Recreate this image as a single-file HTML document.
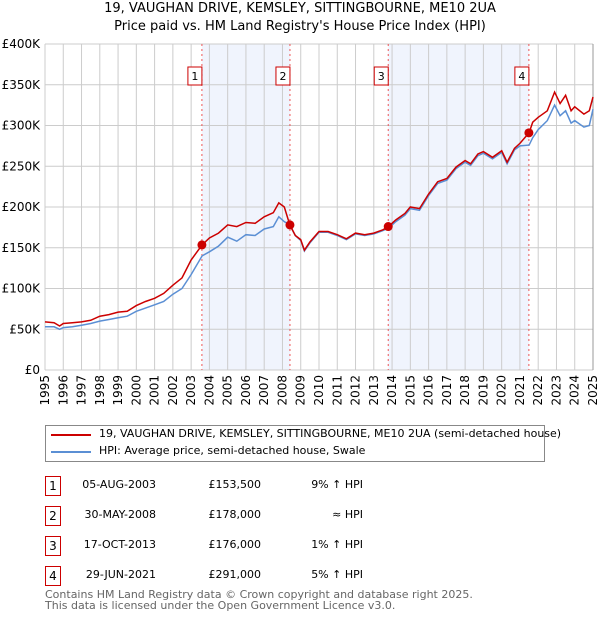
<!DOCTYPE html>
<html><head><meta charset="utf-8"><style>
body{margin:0;width:600px;height:620px;background:#fff;font-family:"DejaVu Sans","Liberation Sans",sans-serif;overflow:hidden;position:relative}
.t{position:absolute;white-space:nowrap;font-size:12px;color:#000}
.box{position:absolute;width:14px;height:18px;border:1px solid #c00;font-size:12px;text-align:center;line-height:18px;background:#fff}
</style></head><body>
<div class="t" style="left:0;width:600px;text-align:center;top:1px;font-size:13px">19, VAUGHAN DRIVE, KEMSLEY, SITTINGBOURNE, ME10 2UA</div>
<div class="t" style="left:0;width:600px;text-align:center;top:19px;font-size:13px">Price paid vs. HM Land Registry's House Price Index (HPI)</div>
<svg id="chart" width="600" height="410" style="position:absolute;left:0;top:0"></svg>
<div style="position:absolute;left:45px;top:425px;width:498px;height:35px;border:1px solid #888"></div>
<div style="position:absolute;left:51px;top:434px;width:40px;height:2px;background:#c00"></div>
<div class="t" style="left:99px;top:427px;font-size:11px">19, VAUGHAN DRIVE, KEMSLEY, SITTINGBOURNE, ME10 2UA (semi-detached house)</div>
<div style="position:absolute;left:51px;top:451px;width:40px;height:2px;background:#5b8fd4"></div>
<div class="t" style="left:99px;top:444px;font-size:11px">HPI: Average price, semi-detached house, Swale</div>
<div id="rows"></div>
<div class="t" style="left:45px;top:589px;font-size:11px;color:#666;line-height:11px">Contains HM Land Registry data © Crown copyright and database right 2025.<br>This data is licensed under the Open Government Licence v3.0.</div>
<script>
const yearTicks=[1995,1996,1997,1998,1999,2000,2001,2002,2003,2004,2005,2006,2007,2008,2009,2010,2011,2012,2013,2014,2015,2016,2017,2018,2019,2020,2021,2022,2023,2024,2025];
const valueTicks=[0,50000,100000,150000,200000,250000,300000,350000,400000];
const valueTickLabels=["£0","£50K","£100K","£150K","£200K","£250K","£300K","£350K","£400K"];
const times=[1995,1995.5,1995.8,1996,1996.5,1997,1997.5,1998,1998.5,1999,1999.5,2000,2000.5,2001,2001.5,2002,2002.5,2003,2003.6,2004,2004.5,2005,2005.5,2006,2006.5,2007,2007.5,2007.8,2008.1,2008.4,2008.7,2009,2009.2,2009.5,2010,2010.5,2011,2011.5,2012,2012.5,2013,2013.5,2013.8,2014.2,2014.7,2015,2015.5,2016,2016.5,2017,2017.5,2018,2018.3,2018.7,2019,2019.5,2020,2020.3,2020.7,2021,2021.5,2021.7,2022,2022.5,2022.9,2023.2,2023.5,2023.8,2024,2024.5,2024.8,2025];
const propertyValues=[59,58,54,57,58,59,61,66,68,71,72,79,84,88,94,104,113,135,153.5,162,168,178,176,181,180,188,193,205,200,178,165,160,147,157,170,170,166,161,168,166,168,172,176,184,192,200,198,216,231,235,249,257,253,265,268,261,269,255,272,278,291,304,310,318,341,327,337,318,323,314,318,335];
const hpiValues=[53,53,50,52,53,55,57,60,62,64,66,72,76,80,84,93,100,117,140,145,152,163,158,166,165,173,176,188,182,178,165,159,146,156,169,169,165,160,167,165,167,171,174,182,190,198,196,214,229,233,247,255,251,263,266,259,267,253,270,275,276,285,295,306,325,312,318,303,306,298,300,320];
const saleTimes=[2003.59,2008.41,2013.79,2021.49];
const salePrices=[153500,178000,176000,291000];
const saleDates=["05-AUG-2003","30-MAY-2008","17-OCT-2013","29-JUN-2021"];
const salePriceLabels=["£153,500","£178,000","£176,000","£291,000"];
const saleHpi=["9% ↑ HPI","≈ HPI","1% ↑ HPI","5% ↑ HPI"];

const X0=45,X1=593,Y0=370,Y1=44;
const xs=t=>X0+(t-1995)/30*(X1-X0);
const ys=v=>Y0-v/400000*(Y0-Y1);
const svg=document.getElementById('chart');
const NS="http://www.w3.org/2000/svg";
function mk(tag,attrs){const e=document.createElementNS(NS,tag);for(const k in attrs)e.setAttribute(k,attrs[k]);svg.appendChild(e);return e;}
for(let i=0;i<saleTimes.length;i+=2){
 const r=mk('rect',{x:xs(saleTimes[i]),y:Y1,width:xs(saleTimes[i+1])-xs(saleTimes[i]),height:Y0-Y1,fill:'#f0f4fd'});
 
 
}
valueTicks.forEach((v,i)=>{
 const l=mk('line',{x1:X0,x2:X1,y1:ys(v),y2:ys(v),stroke:'#ccc','stroke-width':1});
 
 
 const t=mk('text',{x:X0-5,y:ys(v)+4,'text-anchor':'end','font-size':12,'font-family':'DejaVu Sans, sans-serif'});
 t.textContent=valueTickLabels[i];
 
 
});
yearTicks.forEach(y=>{
 const l=mk('line',{x1:xs(y),x2:xs(y),y1:Y1,y2:Y0,stroke:'#ccc','stroke-width':1});
 
 
 const t=mk('text',{x:0,y:0,'text-anchor':'end','font-size':12,'font-family':'DejaVu Sans, sans-serif',transform:`translate(${xs(y)+4},${Y0+5}) rotate(-90)`});
 t.textContent=y;
 
 
});
const bx=mk('line',{x1:X1,x2:X1,y1:Y1,y2:Y0,stroke:'#999'});


saleTimes.forEach((t,i)=>{
 const l=mk('line',{x1:xs(t),x2:xs(t),y1:Y1,y2:Y0,stroke:'#e55','stroke-width':1,'stroke-dasharray':'2,3'});
 
 
});
function path(vals,color,name){
 const d=times.map((t,i)=>(i?'L':'M')+xs(t).toFixed(1)+','+ys(vals[i]*1000).toFixed(1)).join('');
 const p=mk('path',{d,fill:'none',stroke:color,'stroke-width':1.5});
 
 
}
path(hpiValues,'#5b8fd4','hpi-line');
path(propertyValues,'#c00','property-line');
saleTimes.forEach((t,i)=>{
 const c=mk('circle',{cx:xs(t),cy:ys(salePrices[i]),r:4.5,fill:'#c00'});
 
 
 const r=mk('rect',{x:xs(t)-14,y:67,width:14,height:18,fill:'#fff',stroke:'#c00'});
 
 
 const tx=mk('text',{x:xs(t)-7,y:80,'text-anchor':'middle','font-size':11,'font-family':'DejaVu Sans, sans-serif'});
 tx.textContent=i+1;
 
 
});
const rows=document.getElementById('rows');
saleDates.forEach((d,i)=>{
 const top=476+i*30;
 const html=`<div class="box" style="left:45px;top:${top}px">${i+1}</div>
 <div class="t" style="left:76px;width:80px;text-align:right;top:${top+2}px;font-size:11px">${d}</div>
 <div class="t" style="left:190px;width:71px;text-align:right;top:${top+2}px;font-size:11px">${salePriceLabels[i]}</div>
 <div class="t" style="left:243px;width:120px;text-align:right;top:${top+2}px;font-size:11px">${saleHpi[i]}</div>`;
 rows.insertAdjacentHTML('beforeend',html);
});
</script>
</body></html>
